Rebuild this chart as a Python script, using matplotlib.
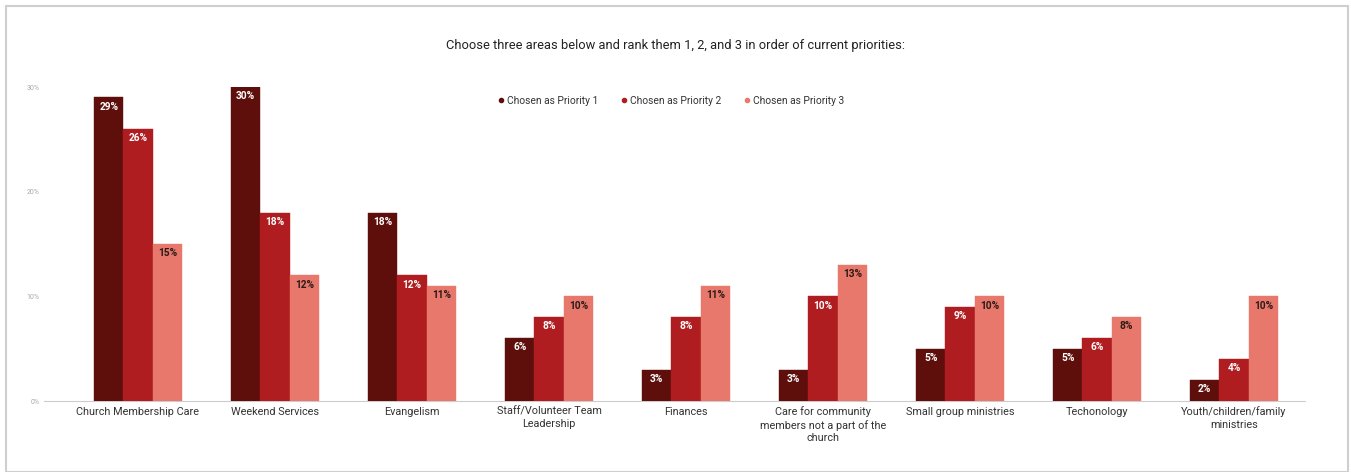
import numpy as np
import matplotlib
matplotlib.use("Agg")
import matplotlib.pyplot as plt
from matplotlib.patches import Rectangle
from matplotlib.lines import Line2D

plt.rcParams['font.family'] = ['Roboto', 'DejaVu Sans']

categories = ["Church Membership Care", "Weekend Services", "Evangelism",
              "Staff/Volunteer Team\nLeadership", "Finances",
              "Care for community\nmembers not a part of the\nchurch",
              "Small group ministries", "Techonology",
              "Youth/children/family\nministries"]
series_names = ["Chosen as Priority 1", "Chosen as Priority 2", "Chosen as Priority 3"]
priority1 = [29, 30, 18, 6, 3, 3, 5, 5, 2]
priority2 = [26, 18, 12, 8, 8, 10, 9, 6, 4]
priority3 = [15, 12, 11, 10, 11, 13, 10, 8, 10]
yticks = [0, 10, 20, 30]

colors = ["#5e0f0b", "#b01d20", "#e8786b"]
text_colors = ["white", "white", "#2a1a18"]

W, H = 1351, 472
fig = plt.figure(figsize=(W / 100, H / 100), dpi=100)
fig.patches.append(Rectangle((6 / W, 0), (1348 - 6) / W, 466 / H, transform=fig.transFigure,
                             fill=False, edgecolor="#cfcfcf", linewidth=1.5))

ax = fig.add_axes([44 / W, 1 - 401 / H, (1305 - 44) / W, (401 - 87) / H])
x = np.arange(len(categories))
bw = 0.214
for k, vals in enumerate([priority1, priority2, priority3]):
    pos = x + (k - 1) * bw
    bars = ax.bar(pos, vals, width=bw, color=colors[k], edgecolor=colors[k], linewidth=0.3,
                  label=series_names[k], zorder=3)
    for b, v in zip(bars, vals):
        ax.text(b.get_x() + b.get_width() / 2, v - 0.4, f"{v}%", ha="center", va="top",
                fontsize=7.3, fontweight="bold", color=text_colors[k], zorder=4)

ax.set_xlim(-0.686, 8.518)
ax.set_ylim(0, 30)
ax.set_yticks(yticks)
ax.set_yticklabels([f"{t}%" for t in yticks], fontsize=5, color="#a8a8a8")
ax.tick_params(axis="y", length=0, pad=3)
ax.set_xticks(x)
ax.set_xticklabels(categories, fontsize=7.8, color="#333333", linespacing=1.3)
ax.tick_params(axis="x", length=0, pad=4)
for s in ["top", "right", "left"]:
    ax.spines[s].set_visible(False)
ax.spines["bottom"].set_color("#cccccc")
ax.spines["bottom"].set_linewidth(0.8)

fig.text(675 / W, 1 - 46 / H, "Choose three areas below and rank them 1, 2, and 3 in order of current priorities:",
         ha="center", va="center", fontsize=9.3, color="#222222")

lh = [Line2D([], [], marker="o", linestyle="", markersize=3, color=c) for c in colors]
fig.legend(lh, series_names, loc="center", bbox_to_anchor=(670 / W, 1 - 101 / H), ncol=3,
           frameon=False, fontsize=7.4, handletextpad=0.1, columnspacing=2.0, handlelength=1.0,
           labelcolor="#333333")

fig.savefig("out.png", dpi=100)
